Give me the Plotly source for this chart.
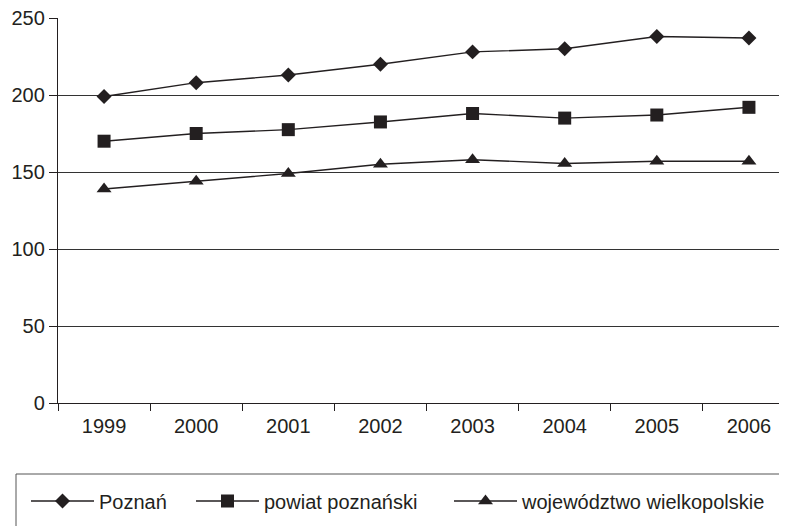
import plotly.graph_objects as go

years = ["1999", "2000", "2001", "2002", "2003", "2004", "2005", "2006"]
poznan = [199, 208, 213, 220, 228, 230, 238, 237]
powiat = [170, 175, 177.5, 182.5, 188, 185, 187, 192]
wojew = [139, 144, 149, 155, 158, 155.5, 157, 157]

names = ["Poznań", "powiat poznański", "województwo wielkopolskie"]
ink = "#231f20"

# page body has 8px margin; compensate in layout
L, T, PB = 50, 10, 395  # plot left, top, bottom (layout px)
PW = 787 - L
PH = PB - T

def px(x):
    return (x - L) / PW

def py(y):
    return (PB - y) / PH

fig = go.Figure()
legends = ["legend", "legend2", "legend3"]
for name, vals, sym, sz, lg in [
    (names[0], poznan, "diamond", 11.5, legends[0]),
    (names[1], powiat, "square", 13, legends[1]),
    (names[2], wojew, "triangle-up", 13, legends[2]),
]:
    fig.add_trace(go.Scatter(
        x=years, y=vals, name=name, mode="lines+markers",
        line=dict(color=ink, width=1.4),
        marker=dict(symbol=sym, size=sz, color=ink),
        legend=lg,
    ))

leg_common = dict(
    orientation="h", xanchor="left", yanchor="middle", y=py(493),
    borderwidth=0, itemwidth=63, font=dict(size=20, color=ink),
    bgcolor="rgba(0,0,0,0)",
)
fig.update_layout(
    width=787, height=526,
    margin=dict(l=L, r=0, t=T, b=526 - PB, autoexpand=False),
    paper_bgcolor="white", plot_bgcolor="white",
    font=dict(family="Liberation Sans, Arial, sans-serif", size=20, color=ink),
    showlegend=True,
    legend=dict(x=px(18), **leg_common),
    legend2=dict(x=px(183), **leg_common),
    legend3=dict(x=px(441), **leg_common),
    shapes=[dict(
        type="rect", xref="paper", yref="paper",
        x0=px(8), x1=1.05, y0=py(466), y1=py(545),
        line=dict(color="#555555", width=1), fillcolor="rgba(0,0,0,0)",
    )],
)
fig.update_xaxes(
    type="category", range=[-0.5, 7.5], automargin=False,
    showline=True, linecolor=ink, linewidth=1.3,
    ticks="outside", ticklen=7, tickcolor=ink, tickson="boundaries",
    ticklabelstandoff=5, ticklabeloverflow="allow",
    showgrid=False, zeroline=False,
)
fig.update_yaxes(
    range=[0, 250], tickvals=[0, 50, 100, 150, 200, 250], automargin=False,
    showline=True, linecolor=ink, linewidth=1.3,
    ticks="outside", ticklen=8, tickcolor=ink, ticklabeloverflow="allow",
    showgrid=True, gridcolor="#333333", gridwidth=1, zeroline=False,
)
fig.write_html("out.html")
